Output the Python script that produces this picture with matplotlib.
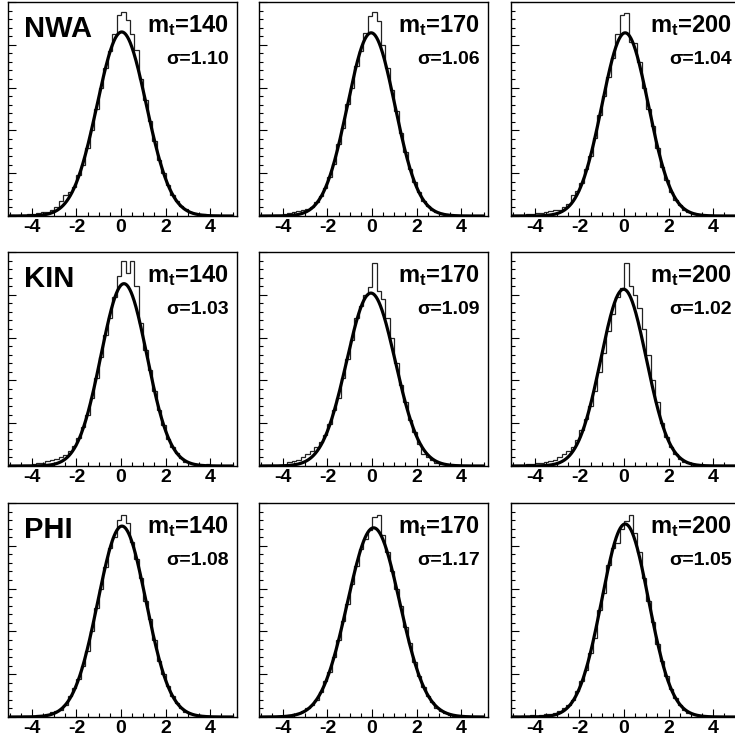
import numpy as np
import matplotlib.pyplot as plt
from matplotlib.ticker import MultipleLocator, NullFormatter

plt.rcParams['font.family'] = ['Liberation Sans', 'DejaVu Sans']
plt.rcParams['font.weight'] = 'bold'
plt.rcParams['axes.unicode_minus'] = False
plt.rcParams['mathtext.fontset'] = 'custom'
plt.rcParams['mathtext.rm'] = 'Liberation Sans:bold'
plt.rcParams['mathtext.it'] = 'Liberation Sans:bold'
plt.rcParams['mathtext.bf'] = 'Liberation Sans:bold'

# 50 bins of 0.2 from -5 to 5
edges = np.linspace(-5, 5, 51)

methods = ["NWA", "KIN", "PHI"]
masses = [140, 170, 200]
sigmas = [[1.10, 1.06, 1.04],
          [1.03, 1.09, 1.02],
          [1.08, 1.17, 1.05]]

# gaussian fit: amplitude and mean (width = sigma above)
fit_amp = [[430, 428, 428],
           [426, 404, 413],
           [446, 442, 451]]
fit_mean = [[0.03, -0.04, 0.05],
            [0.13, -0.05, -0.02],
            [0.04, 0.07, 0.05]]

nwa_140 = [2, 1, 2, 3, 4, 5, 8, 10, 9, 14, 22, 34, 48, 56, 68, 95, 120, 160, 200, 250,
           300, 345, 385, 425, 469, 477, 457, 426, 387, 320, 270, 222, 175, 132, 100, 72, 50, 36, 24, 16,
           10, 7, 5, 4, 3, 2, 2, 1, 1, 0]
nwa_170 = [1, 1, 0, 2, 3, 5, 8, 9, 12, 13, 16, 22, 33, 47, 66, 90, 122, 168, 205, 262,
           300, 350, 385, 428, 467, 477, 455, 400, 345, 295, 245, 195, 150, 110, 80, 55, 36, 24, 15, 10,
           6, 4, 2, 1, 1, 1, 0, 1, 0, 0]
nwa_200 = [2, 3, 2, 4, 5, 6, 7, 9, 11, 14, 15, 20, 27, 50, 58, 78, 110, 140, 182, 235,
           280, 325, 370, 426, 469, 474, 406, 404, 360, 300, 250, 210, 160, 115, 85, 55, 38, 25, 15, 9,
           6, 4, 3, 2, 2, 1, 1, 1, 0, 0]
kin_140 = [1, 1, 1, 2, 3, 4, 6, 8, 11, 14, 17, 20, 25, 36, 47, 65, 90, 120, 160, 205,
           255, 305, 345, 395, 445, 478, 450, 480, 420, 335, 270, 225, 175, 130, 96, 62, 45, 30, 18, 10,
           6, 4, 3, 3, 4, 2, 1, 1, 0, 0]
kin_170 = [2, 3, 2, 1, 2, 3, 10, 12, 14, 20, 28, 36, 45, 55, 72, 98, 130, 160, 205, 250,
           295, 345, 375, 400, 418, 474, 410, 390, 345, 300, 240, 190, 150, 108, 80, 52, 28, 22, 14, 8,
           5, 4, 3, 2, 2, 1, 1, 1, 0, 0]
kin_200 = [2, 3, 3, 4, 5, 6, 8, 10, 12, 15, 20, 28, 35, 45, 60, 85, 110, 140, 175, 220,
           265, 315, 355, 395, 416, 474, 420, 400, 370, 320, 260, 200, 150, 100, 68, 45, 28, 16, 10, 6,
           4, 3, 2, 3, 2, 3, 2, 2, 3, 2]
phi_140 = [1, 1, 1, 2, 2, 3, 5, 5, 8, 12, 14, 17, 28, 48, 68, 88, 118, 155, 200, 255,
           300, 350, 395, 420, 461, 471, 453, 410, 370, 325, 270, 228, 180, 132, 100, 72, 48, 32, 20, 12,
           7, 4, 4, 3, 2, 1, 0, 1, 0, 0]
phi_170 = [1, 1, 1, 0, 2, 3, 5, 7, 9, 14, 20, 28, 40, 58, 85, 105, 140, 180, 225, 265,
           310, 352, 392, 415, 438, 468, 471, 425, 385, 340, 300, 260, 210, 172, 128, 95, 70, 50, 35, 22,
           14, 9, 5, 3, 2, 1, 1, 1, 0, 0]
phi_200 = [2, 1, 3, 2, 4, 3, 5, 6, 8, 10, 14, 22, 28, 40, 60, 85, 110, 150, 185, 250,
           290, 355, 395, 407, 440, 459, 471, 430, 385, 325, 270, 222, 170, 130, 95, 65, 44, 28, 17, 10,
           6, 4, 3, 2, 1, 1, 1, 1, 0, 0]

hists = [[nwa_140, nwa_170, nwa_200],
         [kin_140, kin_170, kin_200],
         [phi_140, phi_170, phi_200]]

W, H = 735, 744
col_left = [8, 259, 511]
row_top = [2, 252, 503]
pw, ph = 229, 214

fig = plt.figure(figsize=(W / 100, H / 100), dpi=100)
xs = np.linspace(-5, 5, 500)

for r in range(3):
    for c in range(3):
        ax = fig.add_axes([col_left[c] / W, (H - row_top[r] - ph) / H, pw / W, ph / H])
        vals = np.array(hists[r][c], dtype=float)
        ax.stairs(vals, edges, color='#222222', lw=0.9)
        fit = fit_amp[r][c] * np.exp(-0.5 * ((xs - fit_mean[r][c]) / sigmas[r][c]) ** 2)
        ax.plot(xs, fit, color='black', lw=2.3)

        ax.set_xlim(-5.07, 5.2)
        ax.set_ylim(0, 500)
        ax.xaxis.set_major_locator(MultipleLocator(2))
        ax.xaxis.set_minor_locator(MultipleLocator(0.5))
        ax.yaxis.set_major_locator(MultipleLocator(100))
        ax.yaxis.set_minor_locator(MultipleLocator(20))
        ax.yaxis.set_major_formatter(NullFormatter())
        ax.tick_params(axis='both', which='both', direction='in', top=False, right=False)
        ax.tick_params(axis='both', which='major', length=6, width=0.8)
        ax.tick_params(axis='both', which='minor', length=3, width=0.8)
        ax.tick_params(axis='x', labelsize=14, pad=2.5)
        for sp in ax.spines.values():
            sp.set_linewidth(1.0)

        if c == 0:
            ax.text(0.07, 0.94, methods[r], transform=ax.transAxes,
                    fontsize=21, fontweight='bold', ha='left', va='top')
        ax.text(0.965, 0.86, r'm$_\mathregular{t}$=%d' % masses[c], transform=ax.transAxes,
                fontsize=17, fontweight='bold', ha='right', va='baseline')
        ax.text(0.965, 0.71, '\u03c3=%.2f' % sigmas[r][c], transform=ax.transAxes,
                fontsize=14, fontweight='bold', ha='right', va='baseline')

fig.savefig('out.png', dpi=100)
